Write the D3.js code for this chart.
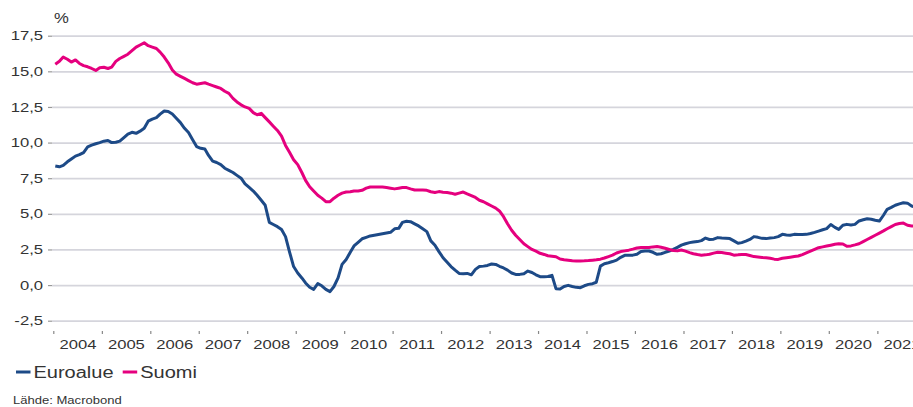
<!DOCTYPE html>
<meta charset="utf-8">
<script src="https://d3js.org/d3.v7.min.js"></script>
<style>
  body { margin: 0; background: white; }
  text { font-family: "Liberation Sans", Arial, sans-serif; fill: #333; }
</style>
<div id="chart"></div>
<script>
// monthly values, Jan 2004 .. Oct 2021
var startYear = 2004;
var euroalue = [
  8.36, 8.3, 8.4, 8.65, 8.85, 9.05, 9.15, 9.3, 9.7, 9.82, 9.92, 10.0,
  10.1, 10.15, 10.0, 10.02, 10.1, 10.35, 10.6, 10.72, 10.65, 10.8, 11.0, 11.5,
  11.65, 11.75, 12.0, 12.22, 12.18, 12.0, 11.7, 11.4, 11.0, 10.7, 10.2, 9.72,
  9.6, 9.55, 9.1, 8.7, 8.6, 8.45, 8.2, 8.05, 7.9, 7.7, 7.5, 7.1,
  6.85, 6.6, 6.3, 5.95, 5.6, 4.4, 4.25, 4.1, 3.9, 3.4, 2.3, 1.3,
  0.85, 0.5, 0.15, -0.15, -0.3, 0.1, -0.05, -0.3, -0.46, -0.1, 0.5, 1.45,
  1.8, 2.3, 2.75, 3.0, 3.25, 3.35, 3.45, 3.5, 3.55, 3.6, 3.65, 3.7,
  3.95, 3.98, 4.4, 4.48, 4.45, 4.3, 4.15, 3.95, 3.75, 3.1, 2.8, 2.35,
  1.92, 1.6, 1.3, 1.05, 0.82, 0.8, 0.82, 0.72, 1.1, 1.3, 1.33, 1.38,
  1.48, 1.45, 1.32, 1.2, 1.05, 0.85, 0.75, 0.75, 0.8, 0.98, 0.88, 0.72,
  0.59, 0.59, 0.6, 0.68, -0.25, -0.28, -0.1, -0.02, -0.1, -0.16, -0.18, -0.05,
  0.05, 0.1, 0.2, 1.33, 1.5, 1.57, 1.65, 1.75, 1.95, 2.09, 2.09, 2.1,
  2.16, 2.35, 2.39, 2.39, 2.3, 2.16, 2.2, 2.3, 2.39, 2.5, 2.65, 2.8,
  2.9, 2.98, 3.02, 3.05, 3.12, 3.3, 3.2, 3.22, 3.33, 3.3, 3.28, 3.26,
  3.1, 2.93, 2.98, 3.08, 3.2, 3.4, 3.35, 3.28, 3.26, 3.3, 3.33, 3.4,
  3.56, 3.52, 3.5, 3.56, 3.55, 3.55, 3.56, 3.62, 3.7, 3.79, 3.88, 3.96,
  4.25, 4.05, 3.91, 4.2, 4.26, 4.22, 4.26, 4.5, 4.58, 4.65, 4.62, 4.55,
  4.49, 4.9, 5.32, 5.45, 5.6, 5.7, 5.78, 5.75, 5.55, 5.45
];
var suomi = [
  15.5, 15.7, 16.0, 15.85, 15.65, 15.8, 15.55, 15.4, 15.32, 15.2, 15.06, 15.25,
  15.29, 15.2, 15.3, 15.7, 15.9, 16.05, 16.2, 16.45, 16.7, 16.85, 17.0, 16.8,
  16.7, 16.6, 16.35, 16.0, 15.6, 15.1, 14.8, 14.65, 14.5, 14.35, 14.2, 14.1,
  14.15, 14.2, 14.1, 14.0, 13.9, 13.8, 13.6, 13.45, 13.1, 12.85, 12.65, 12.5,
  12.4, 12.1, 11.95, 12.05, 11.75, 11.45, 11.15, 10.85, 10.45, 9.8, 9.3, 8.8,
  8.45, 7.9, 7.35, 6.9, 6.6, 6.3, 6.1, 5.85, 5.85, 6.1, 6.3, 6.45,
  6.53, 6.55, 6.6, 6.6, 6.65, 6.8, 6.88, 6.88, 6.88, 6.88, 6.85, 6.8,
  6.75, 6.8, 6.85, 6.84, 6.75, 6.67, 6.67, 6.67, 6.65, 6.55, 6.5, 6.56,
  6.52, 6.49, 6.45, 6.37, 6.45, 6.53, 6.4, 6.28, 6.15, 5.95, 5.85, 5.7,
  5.55, 5.4, 5.2, 4.8, 4.3, 3.85, 3.5, 3.2, 2.9, 2.7, 2.5, 2.38,
  2.23, 2.15, 2.06, 2.03, 1.99, 1.83, 1.78, 1.74, 1.7, 1.69, 1.69, 1.7,
  1.72, 1.75, 1.78, 1.82, 1.9, 2.0, 2.1, 2.25, 2.35, 2.4, 2.45, 2.52,
  2.6, 2.63, 2.63, 2.63, 2.68, 2.7, 2.65, 2.58, 2.5, 2.42, 2.4, 2.46,
  2.38, 2.28, 2.2, 2.14, 2.1, 2.12, 2.16, 2.24, 2.3, 2.28, 2.24, 2.2,
  2.1, 2.12, 2.15, 2.15, 2.08, 2.0, 1.97, 1.94, 1.92, 1.88, 1.82, 1.8,
  1.88, 1.92, 1.96, 2.0, 2.04, 2.14, 2.26, 2.38, 2.5, 2.62, 2.68, 2.74,
  2.8, 2.86, 2.9, 2.88, 2.72, 2.75, 2.82, 2.9, 3.05, 3.2, 3.35, 3.5,
  3.65, 3.8, 3.95, 4.1, 4.25, 4.32, 4.35, 4.2, 4.15, 4.15
];
var years = d3.range(2004, 2022);
var yTicks = [-2.5, 0, 2.5, 5, 7.5, 10, 12.5, 15, 17.5];
var seriesNames = ["Euroalue", "Suomi"];
var colors = ["#1d4a87", "#e5007e"];

var W = 913, H = 407;
var svg = d3.select("#chart").append("svg")
    .attr("width", W).attr("height", H);

var x = d3.scaleTime()
    .domain([new Date(2004, 0, 1), new Date(2022, 0, 1)])
    .range([53.3, 925.8]);
var y = d3.scaleLinear()
    .domain([-2.5, 17.5])
    .range([320.7, 35.7]);

// finnish style: comma decimal, plain hyphen for minus
var fmt = function(d) { return d.toFixed(1).replace(".", ","); };

// gridlines
svg.append("g")
    .attr("transform", "translate(52,0)")
    .call(d3.axisLeft(y).tickValues(yTicks).tickSize(-(W - 52)).tickFormat(""))
    .call(function(g) {
      g.select(".domain").remove();
      g.selectAll("line").attr("stroke", "#d5d5dc").attr("stroke-width", 1.8);
    });

// y ticks + labels
svg.append("g")
    .attr("transform", "translate(52,0)")
    .call(d3.axisLeft(y).tickValues(yTicks).tickSize(4).tickPadding(9).tickFormat(fmt))
    .call(function(g) {
      g.select(".domain").remove();
      g.selectAll("line").attr("stroke", "#999").attr("stroke-width", 1.2);
      g.selectAll("text")
        .attr("font-size", 13).attr("fill", "#3a3a3a")
        .attr("x", -9 / 1.28)
        .attr("transform", "scale(1.28,1)");
    });

// x ticks at year boundaries
svg.append("g")
    .attr("transform", "translate(0,331)")
    .call(d3.axisBottom(x).tickValues(years.map(function(d) { return new Date(d, 0, 1); }))
      .tickSize(3).tickFormat(""))
    .call(function(g) {
      g.select(".domain").remove();
      g.selectAll("line").attr("stroke", "#888").attr("stroke-width", 1.2);
    });

// year labels centred in each year
svg.append("g")
    .attr("transform", "translate(0,331)")
    .call(d3.axisBottom(x).tickValues(years.map(function(d) { return new Date(d, 6, 1); }))
      .tickSize(0).tickPadding(8.7).tickFormat(d3.timeFormat("%Y")))
    .call(function(g) {
      g.select(".domain").remove();
      g.selectAll("text")
        .attr("font-size", 13.5).attr("fill", "#3a3a3a")
        .attr("transform", "scale(1.23,1)");
    });

svg.append("text")
    .attr("transform", "translate(61.5,23) scale(1.15,1)")
    .attr("text-anchor", "middle")
    .attr("font-size", 14.5)
    .text("%");

// lines
var line = d3.line()
    .x(function(d, i) { return x(new Date(startYear, i, 16)); })
    .y(function(d) { return y(d); });

[euroalue, suomi].forEach(function(s, i) {
  svg.append("path")
    .datum(s)
    .attr("fill", "none")
    .attr("stroke", colors[i])
    .attr("stroke-width", 3)
    .attr("stroke-linejoin", "round")
    .attr("d", line);
});

// legend
var legX = [16, 122.7];
seriesNames.forEach(function(name, i) {
  svg.append("line")
    .attr("x1", legX[i]).attr("x2", legX[i] + 14.5)
    .attr("y1", 372).attr("y2", 372)
    .attr("stroke", colors[i]).attr("stroke-width", 3);
  svg.append("text")
    .attr("transform", "translate(" + (legX[i] + 17.5) + ",378.3) scale(1.25,1)")
    .attr("font-size", 16).attr("fill", "#222")
    .text(name);
});

svg.append("text")
    .attr("transform", "translate(13,404) scale(1.22,1)")
    .attr("font-size", 10.7).attr("fill", "#444")
    .text("Lähde: Macrobond");
</script>
